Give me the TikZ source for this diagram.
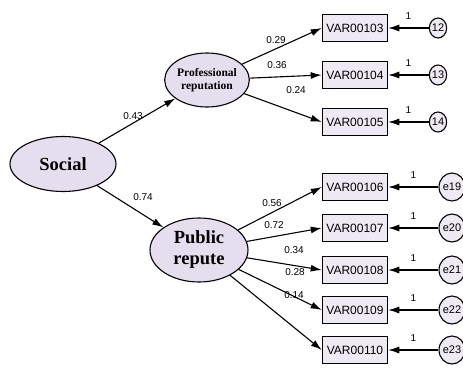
\documentclass[tikz,border=0pt]{standalone}
\usepackage{fontspec}
\setmainfont{Liberation Serif}
\setsansfont{Liberation Sans}
\usetikzlibrary{shapes.geometric,arrows.meta}
\definecolor{lav}{RGB}{228,222,238}
\definecolor{boxlav}{RGB}{238,234,244}
\tikzset{latent/.style={ellipse, draw, line width=1.1pt, fill=lav, inner sep=0mm, align=center},
    obs/.style={draw, line width=1.5pt, fill=boxlav, minimum width=65pt, minimum height=27pt, inner sep=0pt, font=\sffamily\fontsize{12}{12}\selectfont},
    err/.style={ellipse, draw, line width=1.1pt, fill=boxlav, inner sep=0mm, font=\sffamily\fontsize{11}{11}\selectfont},
    coef/.style={font=\sffamily\fontsize{10}{10}\selectfont, inner sep=0mm},
    reg/.style={line width=1.1pt, -{Latex[length=11pt,width=7pt]}}}
\begin{document}
\begin{tikzpicture}[x=1pt, y=-1pt]
    \useasboundingbox (0,0) rectangle (463,375);

    \node (soc) [latent, minimum width=106pt, minimum height=55pt, font=\bfseries\fontsize{18.5}{18}\selectfont] at (63,164) {Social};
    \node (pro) [latent, minimum width=84pt, minimum height=54pt, font=\bfseries\fontsize{11.5}{12.5}\selectfont] at (207,80) {Professional\\reputation};
    \node (pub) [latent, minimum width=98pt, minimum height=64pt, font=\bfseries\fontsize{18.5}{21}\selectfont] at (199,250) {Public\\repute};

    \node (v103) [obs] at (355,28) {VAR00103};
    \node (v104) [obs] at (355,75) {VAR00104};
    \node (v105) [obs] at (355,122) {VAR00105};
    \node (v106) [obs] at (355,187) {VAR00106};
    \node (v107) [obs] at (355,228) {VAR00107};
    \node (v108) [obs] at (355,270) {VAR00108};
    \node (v109) [obs] at (355,310) {VAR00109};
    \node (v110) [obs] at (355,350) {VAR00110};

    \node (e12) [err, minimum width=17pt, minimum height=20pt] at (438,28) {12};
    \node (e13) [err, minimum width=17pt, minimum height=20pt] at (438,75) {13};
    \node (e14) [err, minimum width=17pt, minimum height=20pt] at (438,122) {14};
    \node (e19) [err, minimum width=20pt, minimum height=28pt] at (452,187) {e19};
    \node (e20) [err, minimum width=20pt, minimum height=28pt] at (452,228) {e20};
    \node (e21) [err, minimum width=20pt, minimum height=28pt] at (452,270) {e21};
    \node (e22) [err, minimum width=20pt, minimum height=28pt] at (452,310) {e22};
    \node (e23) [err, minimum width=20pt, minimum height=28pt] at (452,350) {e23};

    % structural paths
    \draw[reg] (soc) -- (pro);
    \draw[reg] (soc) -- (pub);
    \node (c43) [coef] at (133,116) {0.43};
    \node (c74) [coef] at (143,197) {0.74};

    % loadings
    \draw[reg] (pro) -- (v103.west);
    \draw[reg] (pro) -- (v104.west);
    \draw[reg] (pro) -- (v105.west);
    \node (c29) [coef] at (276,40) {0.29};
    \node (c36) [coef] at (277,65) {0.36};
    \node (c24) [coef] at (296,90) {0.24};

    \draw[reg] (pub) -- (v106.west);
    \draw[reg] (pub) -- (v107.west);
    \draw[reg] (pub) -- (v108.west);
    \draw[reg] (pub) -- (v109.west);
    \draw[reg] (pub) -- (v110.west);
    \node (c56) [coef] at (272,203) {0.56};
    \node (c72) [coef] at (274,225) {0.72};
    \node (c34) [coef] at (294,250) {0.34};
    \node (c28) [coef] at (295,272) {0.28};
    \node (c14) [coef] at (294,295) {0.14};

    % errors
    \draw[reg] (e12) -- (v103) node (o12) [coef, midway, above=8pt] {1};
    \draw[reg] (e13) -- (v104) node (o13) [coef, midway, above=8pt] {1};
    \draw[reg] (e14) -- (v105) node (o14) [coef, midway, above=8pt] {1};
    \draw[reg] (e19) -- (v106) node (o19) [coef, midway, above=8pt] {1};
    \draw[reg] (e20) -- (v107) node (o20) [coef, midway, above=8pt] {1};
    \draw[reg] (e21) -- (v108) node (o21) [coef, midway, above=8pt] {1};
    \draw[reg] (e22) -- (v109) node (o22) [coef, midway, above=8pt] {1};
    \draw[reg] (e23) -- (v110) node (o23) [coef, midway, above=8pt] {1};
\end{tikzpicture}
\end{document}
